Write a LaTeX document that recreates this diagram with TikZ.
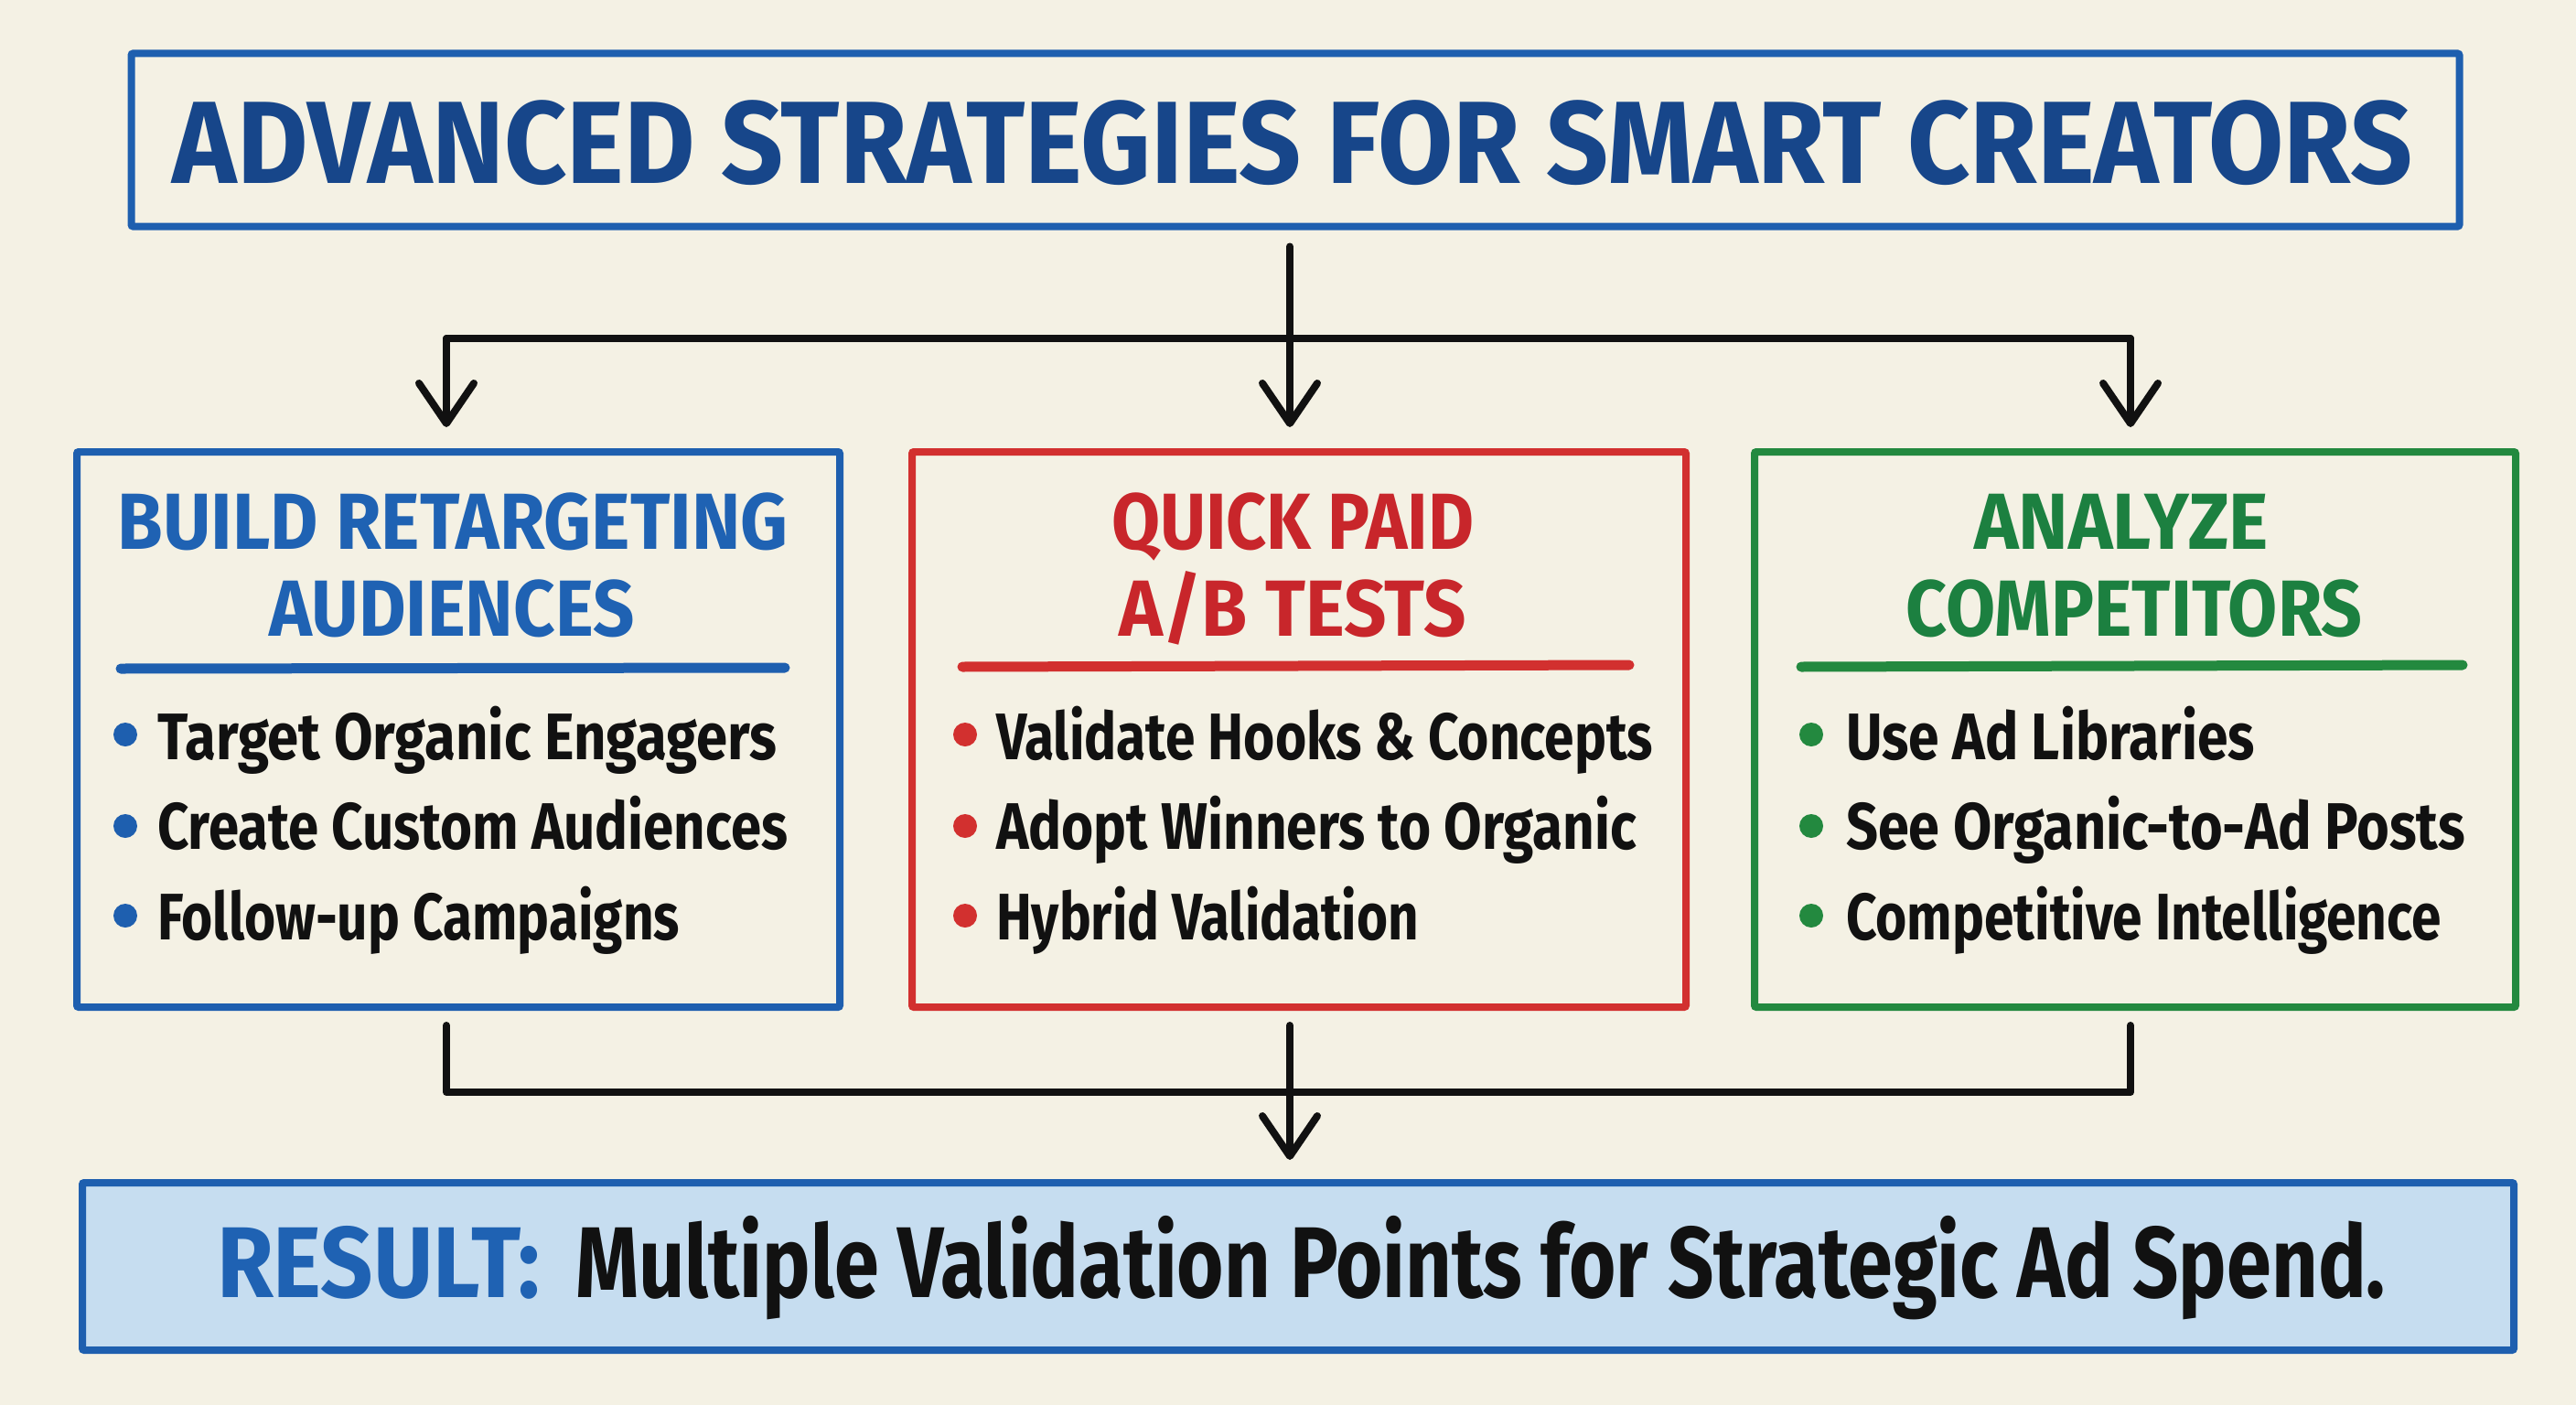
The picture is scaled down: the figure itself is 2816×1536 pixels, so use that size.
\documentclass[tikz,border=0pt]{standalone}
\usepackage{fontspec}
\setmainfont{Fira Sans}
\usepackage{graphicx}
\usetikzlibrary{arrows.meta}
\definecolor{bgc}{HTML}{F4F1E4}
\definecolor{cblue}{HTML}{1E5FAF}
\definecolor{tblue}{HTML}{17468A}
\definecolor{hblue}{HTML}{1F62B3}
\definecolor{cred}{HTML}{D2302F}
\definecolor{hred}{HTML}{C8262B}
\definecolor{cgreen}{HTML}{23893F}
\definecolor{hgreen}{HTML}{1C8040}
\definecolor{rfill}{HTML}{C6DDF0}
\definecolor{ink}{HTML}{111111}
\newcommand\fitw[2]{\resizebox{#1}{\height}{#2}}
\newcommand\titlefont{\bfseries\fontsize{128}{136}\selectfont}
\newcommand\headfont{\bfseries\fontsize{87}{92}\selectfont}
\newcommand\itemfont{\bfseries\fontsize{72}{76}\selectfont}
\newcommand\resfont{\bfseries\fontsize{110}{116}\selectfont}
\begin{document}
\begin{tikzpicture}[x=1pt,y=-1pt,
  frame/.style={draw, line width=8pt, inner sep=0pt, rounded corners=2pt},
  conn/.style={line width=8pt, line cap=round, line join=round, draw=ink},
  arr/.style={conn, -{Straight Barb[length=44pt,width=60pt,round]}},
  txt/.style={inner sep=0pt, outer sep=0pt},
  uline/.style={line width=11pt, line cap=round}]
\useasboundingbox (0,0) rectangle (2816,1536);
\fill[bgc] (0,0) rectangle (2816,1536);

% title
\node[frame, draw=cblue, minimum width=2545pt, minimum height=189pt] (title) at (1416,153) {};
\node[txt, anchor=base, text=tblue] (titletext) at (1413,200) {\titlefont\fitw{2448pt}{ADVANCED STRATEGIES FOR SMART CREATORS}};

% three boxes
\node[frame, draw=cblue, minimum width=834pt, minimum height=607pt] (blue) at (501,797.5) {};
\node[frame, draw=cred, minimum width=846pt, minimum height=607pt] (red) at (1420,797.5) {};
\node[frame, draw=cgreen, minimum width=832pt, minimum height=607pt] (green) at (2334,797.5) {};

% result box
\node[frame, draw=cblue, fill=rfill, minimum width=2658pt, minimum height=183pt] (result) at (1419,1384.5) {};
\node[txt, anchor=base west, text=hblue] (reslabel) at (237,1418) {\resfont\fitw{353pt}{RESULT:}};
\node[txt, anchor=base west, text=ink] (restext) at (629,1418) {\resfont\fitw{1979pt}{Multiple Validation Points for Strategic Ad Spend.}};

% headers
\node[txt, anchor=base, text=hblue] (bh1) at (495,600) {\headfont\fitw{733pt}{BUILD RETARGETING}};
\node[txt, anchor=base, text=hblue] (bh2) at (494,695) {\headfont\fitw{399pt}{AUDIENCES}};
\node[txt, anchor=base, text=hred] (rh1) at (1413,600) {\headfont\fitw{396pt}{QUICK PAID}};
\node[txt, anchor=base, text=hred] (rh2) at (1413,695) {\headfont\fitw{379pt}{A/B TESTS}};
\node[txt, anchor=base, text=hgreen] (gh1) at (2319,600) {\headfont\fitw{322pt}{ANALYZE}};
\node[txt, anchor=base, text=hgreen] (gh2) at (2333,695) {\headfont\fitw{499pt}{COMPETITORS}};

% underlines
\draw[uline, cblue] (132,731) -- (858,730);
\draw[uline, cred] (1052,729) -- (1781,727);
\draw[uline, cgreen] (1969,729) -- (2692,727);

% bullets blue
\fill[cblue] (137,803) circle (13pt);
\fill[cblue] (137,903) circle (13pt);
\fill[cblue] (137,1001) circle (13pt);
\node[txt, anchor=base west, text=ink] (b1) at (172,830) {\itemfont\fitw{677pt}{Target Organic Engagers}};
\node[txt, anchor=base west, text=ink] (b2) at (172,928) {\itemfont\fitw{689pt}{Create Custom Audiences}};
\node[txt, anchor=base west, text=ink] (b3) at (172,1027) {\itemfont\fitw{571pt}{Follow-up Campaigns}};

% bullets red
\fill[cred] (1055,803) circle (13pt);
\fill[cred] (1055,903) circle (13pt);
\fill[cred] (1055,1001) circle (13pt);
\node[txt, anchor=base west, text=ink] (r1) at (1089,830) {\itemfont\fitw{718pt}{Validate Hooks \& Concepts}};
\node[txt, anchor=base west, text=ink] (r2) at (1089,928) {\itemfont\fitw{700pt}{Adopt Winners to Organic}};
\node[txt, anchor=base west, text=ink] (r3) at (1089,1027) {\itemfont\fitw{462pt}{Hybrid Validation}};

% bullets green
\fill[cgreen] (1980,803) circle (13pt);
\fill[cgreen] (1980,903) circle (13pt);
\fill[cgreen] (1980,1001) circle (13pt);
\node[txt, anchor=base west, text=ink] (g1) at (2018,830) {\itemfont\fitw{447pt}{Use Ad Libraries}};
\node[txt, anchor=base west, text=ink] (g2) at (2018,928) {\itemfont\fitw{677pt}{See Organic-to-Ad Posts}};
\node[txt, anchor=base west, text=ink] (g3) at (2018,1027) {\itemfont\fitw{651pt}{Competitive Intelligence}};

% connectors top
\coordinate (split) at (1410,370);
\coordinate (bt) at ([xshift=-13pt]blue.north);
\coordinate (gt) at ([xshift=-5pt]green.north);
\coordinate (rt) at ([xshift=-10pt]red.north);
\draw[conn] (split -| bt) -- (split -| gt);
\draw[arr, shorten >=23pt] (title.south -| rt) ++(0,18) -- (rt);
\draw[arr, shorten >=23pt] (split -| bt) -- (bt);
\draw[arr, shorten >=23pt] (split -| gt) -- (gt);

% connectors bottom
\coordinate (merge) at (1410,1194);
\coordinate (bb) at ([xshift=-13pt]blue.south);
\coordinate (gb) at ([xshift=-5pt]green.south);
\coordinate (rb) at ([xshift=-10pt]red.south);
\draw[conn, shorten <=16pt, shorten >=16pt] (bb) -- (bb |- merge) -- (gb |- merge) -- (gb);
\draw[arr, shorten <=16pt, shorten >=21pt] (rb) -- (result.north -| rb);
\end{tikzpicture}
\end{document}
